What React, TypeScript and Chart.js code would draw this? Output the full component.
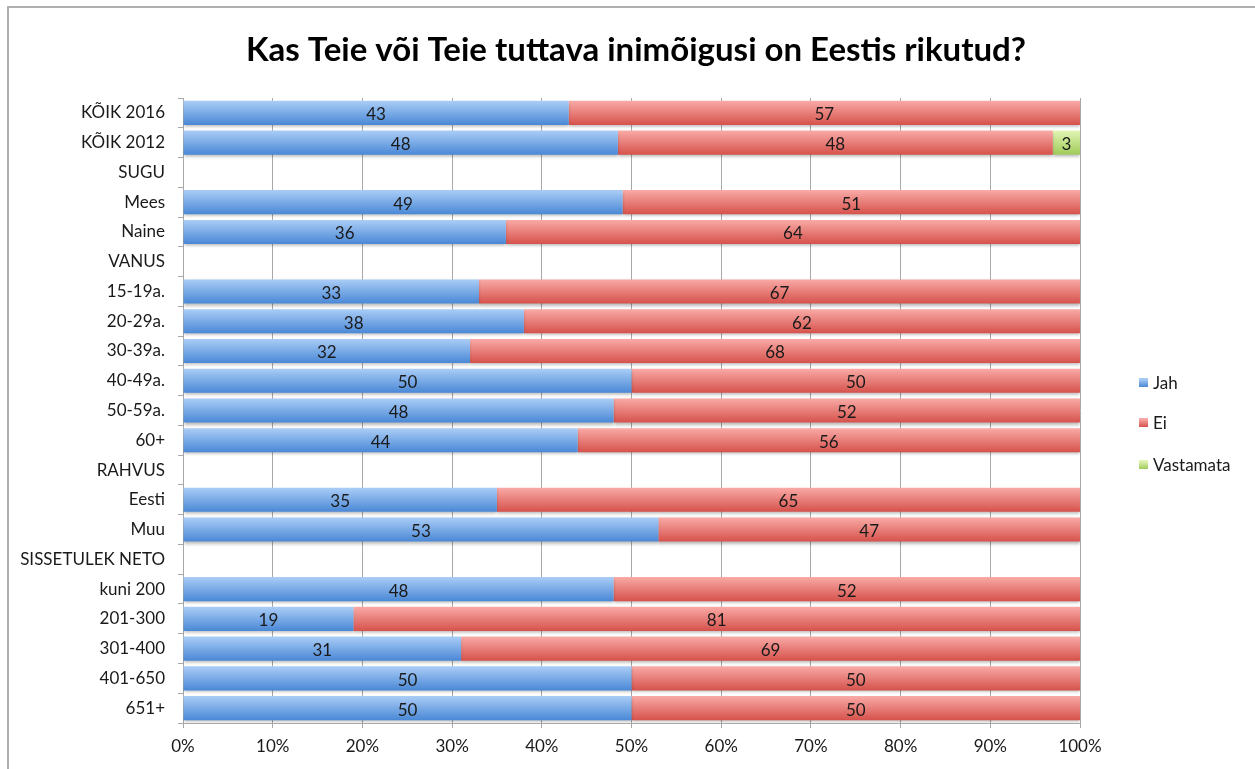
import React, { useEffect, useRef } from "react";
import { Chart, registerables } from "chart.js";

Chart.register(...registerables);

const TITLE = "Kas Teie või Teie tuttava inimõigusi on Eestis rikutud?";

const categories = [
  "KÕIK 2016", "KÕIK 2012", "SUGU", "Mees", "Naine", "VANUS",
  "15-19a.", "20-29a.", "30-39a.", "40-49a.", "50-59a.", "60+",
  "RAHVUS", "Eesti", "Muu", "SISSETULEK NETO",
  "kuni 200", "201-300", "301-400", "401-650", "651+",
];

const jah = [43, 48, null, 49, 36, null, 33, 38, 32, 50, 48, 44, null, 35, 53, null, 48, 19, 31, 50, 50];
const ei = [57, 48, null, 51, 64, null, 67, 62, 68, 50, 52, 56, null, 65, 47, null, 52, 81, 69, 50, 50];
const vastamata = [0, 3, null, 0, 0, null, 0, 0, 0, 0, 0, 0, null, 0, 0, null, 0, 0, 0, 0, 0];

const seriesNames = ["Jah", "Ei", "Vastamata"];
const xTicks = [0, 10, 20, 30, 40, 50, 60, 70, 80, 90, 100];

const FONT = "Lato, 'Open Sans', sans-serif";

const palettes = [
  { top: "#aacdf6", bottom: "#4a88d6", solid: "#6fa3e6" },
  { top: "#f9aaa6", bottom: "#d6524c", solid: "#e87b76" },
  { top: "#e2f5b4", bottom: "#9fcb5a", solid: "#bde287" },
];

const rawSeries = [jah, ei, vastamata];

function shareOf(series: (number | null)[], i: number) {
  const total = (jah[i] ?? 0) + (ei[i] ?? 0) + (vastamata[i] ?? 0);
  const v = series[i];
  if (v === null || total === 0) return null;
  return (v / total) * 100;
}

export default function App() {
  const ref = useRef<HTMLCanvasElement | null>(null);

  useEffect(() => {
    if (!ref.current) return;

    const gradientFor = (p: number) => (ctx: any) => {
      const chart = ctx.chart;
      const ys = chart.scales && chart.scales.y;
      if (!ys || ctx.type !== "data" || !chart.chartArea) return palettes[p].solid;
      const c = ys.getPixelForValue(ctx.dataIndex);
      const half = 12;
      const g = chart.ctx.createLinearGradient(0, c - half, 0, c + half);
      g.addColorStop(0, palettes[p].top);
      g.addColorStop(1, palettes[p].bottom);
      return g;
    };

    const datasets = rawSeries.map((s, p) => ({
      label: seriesNames[p],
      data: categories.map((_, i) => shareOf(s, i)),
      rawValues: s,
      backgroundColor: gradientFor(p),
      borderWidth: 0,
      barPercentage: 0.81,
      categoryPercentage: 1,
    }));

    const framePlugin = {
      id: "frame",
      beforeDraw(chart: any) {
        const c = chart.ctx;
        c.save();
        c.fillStyle = "#ffffff";
        c.fillRect(0, 0, chart.width, chart.height);
        c.strokeStyle = "#b0b0b0";
        c.lineWidth = 2;
        c.strokeRect(8, 7, chart.width + 20, chart.height + 20);
        c.fillStyle = "#000";
        c.font = `bold 33px ${FONT}`;
        c.textAlign = "center";
        c.textBaseline = "middle";
        c.fillText(TITLE, 636, 50);
        c.restore();
      },
      beforeDatasetsDraw(chart: any) {
        const c = chart.ctx;
        c.save();
        c.shadowColor = "rgba(0,0,0,0.28)";
        c.shadowOffsetY = 2;
        c.shadowBlur = 3;
      },
      afterDatasetsDraw(chart: any) {
        const c = chart.ctx;
        c.restore();
        c.save();
        c.font = `17px ${FONT}`;
        c.fillStyle = "#1a1a1a";
        c.textAlign = "center";
        c.textBaseline = "middle";
        chart.data.datasets.forEach((ds: any, di: number) => {
          const meta = chart.getDatasetMeta(di);
          meta.data.forEach((el: any, i: number) => {
            const v = ds.rawValues[i];
            if (v === null || v === 0) return;
            const x = (el.x + el.base) / 2;
            c.fillText(String(v), x, el.y + 2);
          });
        });
        // legend
        const ly = [383, 423, 465];
        seriesNames.forEach((name, p) => {
          const g = c.createLinearGradient(0, ly[p] - 4, 0, ly[p] + 4);
          g.addColorStop(0, palettes[p].top);
          g.addColorStop(1, palettes[p].bottom);
          c.fillStyle = g;
          c.fillRect(1139, ly[p] - 5, 9, 9);
          c.fillStyle = "#1a1a1a";
          c.textAlign = "left";
          c.fillText(name, 1153, ly[p] + 1);
        });
        c.restore();
      },
    };

    const chart = new Chart(ref.current, {
      type: "bar",
      data: { labels: categories, datasets: datasets as any },
      plugins: [framePlugin],
      options: {
        indexAxis: "y",
        animation: false,
        responsive: false,
        maintainAspectRatio: false,
        layout: { padding: { left: 0, top: 98, right: 175, bottom: 0 } },
        plugins: {
          legend: { display: false },
          title: { display: false },
          tooltip: { enabled: false },
        },
        scales: {
          x: {
            stacked: true,
            min: 0,
            max: 100,
            afterFit(scale: any) { scale.height = 46; },
            afterBuildTicks(scale: any) { scale.ticks = xTicks.map((v) => ({ value: v })); },
            ticks: {
              callback: (v: any) => `${v}%`,
              color: "#1a1a1a",
              font: { family: FONT, size: 17 },
              padding: 8,
            },
            grid: {
              color: "#a8a8a8",
              lineWidth: 1,
              drawTicks: true,
              tickLength: 5,
            },
            border: { display: true, color: "#a8a8a8" },
          },
          y: {
            stacked: true,
            afterFit(scale: any) { scale.width = 183; },
            ticks: {
              color: "#1a1a1a",
              font: { family: FONT, size: 17 },
              padding: 13,
              autoSkip: false,
            },
            grid: {
              drawOnChartArea: false,
              drawTicks: true,
              tickLength: 5,
              color: "#a8a8a8",
              offset: true,
            },
            border: { display: true, color: "#a8a8a8" },
          },
        },
      } as any,
    });

    return () => chart.destroy();
  }, []);

  return (
    <div style={{ position: "absolute", left: 0, top: 0, width: 1255, height: 769 }}>
      <canvas ref={ref} width={1255} height={769} style={{ display: "block", width: 1255, height: 769 }} />
    </div>
  );
}
